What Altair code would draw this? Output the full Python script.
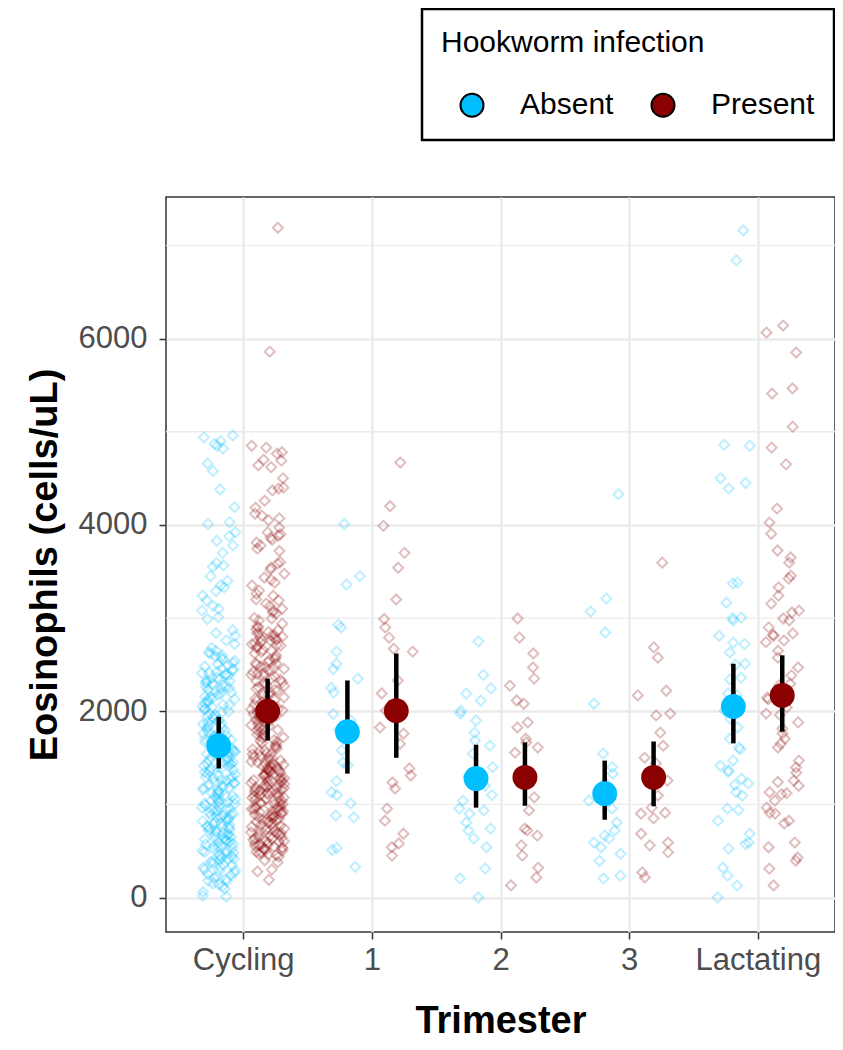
import altair as alt
import pandas as pd

categories = ["Cycling", "1", "2", "3", "Lactating"]
infection_levels = ["Absent", "Present"]
infection_colors = ["#00BFFF", "#8B0000"]

cycling_absent = [
    4960, 4940, 4900, 4870, 4850, 4820, 4660, 4580, 4380, 4190, 4030, 4010, 3920, 3880,
    3830, 3780, 3590, 3565, 3550, 3400, 3350, 3330, 3290, 3190, 3130, 3100, 3080, 2990,
    2840, 2810, 2760, 2680, 2650, 2630, 2570, 2540,
    2520, 2505, 2490, 2455, 2450, 2425, 2410, 2395, 2380, 2355, 2340, 2330, 2305, 2290,
    2265, 2250, 2235, 2215, 2200, 2175, 2150, 2140, 2115, 2100, 2085, 2065, 2050, 2030,
    2015, 1990, 1975, 1960, 1935, 1920, 1905, 1880, 1860, 1845, 1825, 1810, 1790, 1775,
    1760, 1740, 1715, 1700, 1685, 1665, 1650, 1625, 1610, 1590, 1580, 1555, 1540, 1525,
    1500, 1490, 1465, 1450, 1440, 1415, 1400, 1385, 1370, 1345, 1330, 1310, 1300, 1280,
    1265, 1250, 1225, 1210, 1190, 1175, 1160, 1135, 1120, 1105, 1090, 1070, 1055, 1040,
    1020, 1005, 990, 965, 950, 940, 915, 900, 885, 870, 850, 835, 820, 795, 780, 765,
    750, 735, 720, 700, 680, 665, 650, 625, 610, 600, 575, 560, 545, 530, 505, 490, 470,
    455, 440, 415, 400, 380, 365, 345, 330, 300, 285, 250, 230, 200, 175, 140, 95, 20, 10,
    1430, 1180, 1020, 880, 760, 640, 1560, 1720, 1230, 930, 2270, 2320, 2410,
    2480, 2440, 2390, 2360, 2310, 2280, 2230, 2190, 2160, 2130, 2070, 2040, 2000, 1950,
    1890, 1870, 1830, 1780, 1730, 1690, 1670, 1640, 1600, 1570, 1530, 1510, 1475, 1455,
    1410, 1390, 1355, 1320, 1290, 1270, 1240, 1200, 1150, 1125, 1080, 1060, 1030, 1010,
    975, 955, 925, 890, 860, 840, 810, 790, 755, 740, 710, 690, 670, 640, 615, 590, 570,
    550, 520, 500, 480, 450, 430, 410, 390, 355, 320, 290, 265, 240, 210, 180, 150, 120,
    60, 2600, 2720, 2870, 3010, 3240, 3450, 3700, 2560, 2590, 2620,
]
cycling_present = [
    7190, 5860, 4850, 4830, 4780, 4765, 4690, 4640, 4620, 4500, 4390, 4370, 4260, 4185,
    4120, 4070, 4050, 3970, 3920, 3885, 3865, 3840, 3810, 3780, 3745, 3720, 3585, 3540,
    3520, 3475, 3435, 3410, 3380, 3295, 3260, 3240, 3190, 3155, 3130, 3080, 3060, 3050,
    2995, 2975, 2940, 2900, 2880, 2835, 2820, 2790, 2760, 2740, 2705, 2650, 2635, 2620,
    2575, 2545,
    2530, 2515, 2500, 2480, 2470, 2455, 2440, 2420, 2400, 2390, 2370, 2350, 2335, 2310,
    2300, 2285, 2260, 2240, 2230, 2205, 2190, 2170, 2150, 2135, 2110, 2100, 2080, 2060,
    2040, 2020, 2010, 1985, 1970, 1950, 1930, 1910, 1900, 1875, 1860, 1840, 1820, 1800,
    1790, 1770, 1750, 1730, 1715, 1690, 1680, 1660, 1640, 1625, 1600, 1590, 1570, 1550,
    1535, 1520, 1500, 1480, 1470, 1450, 1435, 1420, 1400, 1390, 1370, 1355, 1340, 1320,
    1310, 1290, 1275, 1260, 1245, 1230, 1210, 1200, 1185, 1170, 1150, 1140, 1120, 1105,
    1090, 1075, 1060, 1040, 1030, 1010, 995, 980, 960, 950, 930, 915, 900, 885, 870, 850,
    840, 820, 805, 790, 770, 760, 740, 725, 710, 690, 680, 660, 645, 630, 610, 600, 580,
    565, 550, 535, 520, 500, 490, 470, 455, 440, 400, 380, 300, 280, 190,
    2780, 2770, 2800, 2710, 2690, 1380, 1360, 1250, 1130, 1080, 1000, 1220, 960, 940, 870,
    880, 1180, 1290, 1410, 530, 560, 620, 700, 2850, 2720, 1160, 1110,
    2910, 2870, 2840, 2810, 2760, 2730, 2680, 2660, 2600, 2560, 2510, 2460, 2410, 2380,
    2320, 2270, 2220, 2180, 2120, 2070, 2030, 1995, 1940, 1890, 1850, 1810, 1760, 1720,
    1670, 1610, 1580, 1540, 1510, 1490, 1460, 1440, 1425, 1395, 1375, 1345, 1330, 1305,
    1280, 1265, 1240, 1215, 1195, 1175, 1155, 1135, 1115, 1095, 1070, 1050, 1020, 1005,
    985, 970, 945, 925, 905, 890, 860, 845, 830, 810, 780, 750, 730, 715, 695, 670, 650,
    635, 605, 590, 570, 545, 525, 510, 480, 460, 3200, 3350, 3600, 3900, 4100, 4400,
    4700, 3000, 3100,
]
t1_absent = [
    4010, 3450, 3360, 2930, 2900, 2640, 2510, 2450, 2350, 2250, 2200, 1970, 1900, 1800,
    1700, 1580, 1450, 1420, 1250, 1130, 1100, 1010, 880, 860, 530, 510, 330,
]
t1_present = [
    4670, 4200, 3990, 3700, 3540, 3200, 2990, 2900, 2790, 2670, 2640, 2330, 2190, 2005,
    1825, 1760, 1650, 1385, 1310, 1235, 1170, 955, 825, 685, 580, 540, 450,
]
t2_absent = [
    2750, 2390, 2245, 2190, 2115, 2005, 1975, 1900, 1770, 1685, 1630, 1545, 1400, 1300,
    1200, 1100, 1040, 955, 935, 900, 805, 740, 720, 635, 540, 310, 205, 0,
]
t2_present = [
    2995, 2790, 2620, 2470, 2350, 2275, 2115, 2080, 1880, 1825, 1705, 1665, 1610, 1555,
    1330, 1275, 1075, 935, 740, 720, 665, 560, 450, 320, 215, 130,
]
t3_absent = [
    4330, 3210, 3070, 2845, 2080, 1545, 1400, 1330, 1235, 1150, 1040, 955, 805, 720, 665,
    635, 590, 540, 470, 395, 235, 205,
]
t3_present = [
    3595, 2685, 2575, 2220, 2170, 1975, 1955, 1770, 1630, 1500, 1440, 1255, 1095, 965,
    910, 900, 850, 685, 590, 560, 485, 270, 215,
]
lactating_absent = [
    7160, 6840, 4860, 4850, 4500, 4450, 4390, 3380, 3370, 3165, 3005, 3000, 2975, 2810,
    2735, 2720, 2630, 2510, 2500, 2360, 2340, 2190, 2170, 2005, 1920, 1825, 1705, 1610,
    1590, 1470, 1415, 1365, 1350, 1275, 1225, 1210, 1130, 1095, 955, 940, 825, 685, 590,
    575, 525, 320, 235, 130, 0,
]
lactating_present = [
    6140, 6065, 5850, 5465, 5410, 5055, 4830, 4650, 4175, 4025, 3905, 3725, 3650, 3595,
    3455, 3425, 3330, 3240, 3155, 3080, 3060, 2995, 2975, 2900, 2835, 2820, 2810, 2760,
    2740, 2650, 2575, 2470, 2385, 2295, 2280, 2145, 2130, 2040, 1975, 1960, 1880, 1815,
    1760, 1705, 1650, 1610, 1470, 1395, 1340, 1255, 1240, 1200, 1130, 1120, 1110, 1040,
    965, 910, 900, 825, 795, 590, 540, 430, 395, 310, 130,
]

# ---- group summaries: mean and interval ----
summary_trimester = ["Cycling", "Cycling", "1", "1", "2", "2", "3", "3", "Lactating", "Lactating"]
summary_infection = ["Absent", "Present"] * 5
mean_values = [1630, 2000, 1780, 2005, 1277, 1290, 1115, 1290, 2050, 2170]
ci_lower = [1385, 1685, 1330, 1500, 965, 985, 835, 980, 1655, 1780]
ci_upper = [1940, 2350, 2330, 2620, 1640, 1665, 1470, 1675, 2510, 2600]

minor_breaks = [1000, 3000, 5000, 7000]
major_breaks = [0, 2000, 4000, 6000]

groups = [
    ("Cycling", "Absent", cycling_absent), ("Cycling", "Present", cycling_present),
    ("1", "Absent", t1_absent), ("1", "Present", t1_present),
    ("2", "Absent", t2_absent), ("2", "Present", t2_present),
    ("3", "Absent", t3_absent), ("3", "Present", t3_present),
    ("Lactating", "Absent", lactating_absent), ("Lactating", "Present", lactating_present),
]
rows = []
for trim, inf, vals in groups:
    for v in vals:
        rows.append({"trimester": trim, "hook": inf, "eos": v})
points_df = pd.DataFrame(rows)

summary_df = pd.DataFrame({
    "trimester": summary_trimester, "infection": summary_infection,
    "mean": mean_values, "lo": ci_lower, "hi": ci_upper,
})
minor_df = pd.DataFrame({"v": minor_breaks})

cat_list = "[" + ",".join(f"'{c}'" for c in categories) + "]"
cat_expr = f"indexof({cat_list}, datum.trimester)"
dodge_pts = "(datum.hook == 'Absent' ? -0.19 : 0.19)"
dodge_sum = "(datum.infection == 'Absent' ? -0.19 : 0.19)"
hash_expr = ("((sin((datum.idx + 53 * " + cat_expr + " + (datum.hook == 'Absent' ? 0 : 911)) * 12.9898) "
             "* 43758.5453) % 1 + 1) % 1")

FONT = "Liberation Sans"
x_scale = alt.Scale(domain=[-0.6, 4.6], nice=False, zero=False)
y_scale = alt.Scale(domain=[-370, 7520], nice=False, zero=False)
x_axis = alt.Axis(values=[0, 1, 2, 3, 4], labelExpr=f"{cat_list}[datum.value]",
                  title="Trimester", labelPadding=6, titlePadding=27)
y_axis = alt.Axis(values=major_breaks, title="Eosinophils (cells/uL)", labelPadding=12,
                  titlePadding=14, format="d")
color_scale = alt.Scale(domain=infection_levels, range=infection_colors)

minor = alt.Chart(minor_df).mark_rule(color="#EBEBEB", strokeWidth=1.3).encode(
    y=alt.Y("v:Q", scale=y_scale, axis=y_axis)
)

jitter_layers = []
for level, col in zip(infection_levels, infection_colors):
    jitter_layers.append(
        alt.Chart(points_df).transform_filter(
            alt.datum.hook == level
        ).transform_window(
            idx="row_number()", groupby=["trimester"]
        ).transform_calculate(
            xj=f"{cat_expr} + {dodge_pts} + ({hash_expr} - 0.5) * 0.26"
        ).mark_point(shape="diamond", filled=False, size=100, strokeWidth=2, opacity=0.25,
                     color=col).encode(
            x=alt.X("xj:Q", scale=x_scale, axis=x_axis),
            y=alt.Y("eos:Q", scale=y_scale, axis=y_axis),
        )
    )

bars = alt.Chart(summary_df).transform_calculate(
    xm=f"{cat_expr} + {dodge_sum}"
).mark_rule(color="black", strokeWidth=4.5).encode(
    x=alt.X("xm:Q", scale=x_scale, axis=x_axis),
    y=alt.Y("lo:Q", scale=y_scale, axis=y_axis),
    y2="hi:Q",
)

means = alt.Chart(summary_df).transform_calculate(
    xm=f"{cat_expr} + {dodge_sum}"
).mark_circle(size=620, opacity=1).encode(
    x=alt.X("xm:Q", scale=x_scale, axis=x_axis),
    y=alt.Y("mean:Q", scale=y_scale, axis=y_axis),
    fill=alt.Fill("infection:N", scale=color_scale, legend=alt.Legend(
        title="Hookworm infection", orient="none", legendX=256, legendY=-188,
        direction="horizontal", columns=2,
    )),
)

chart = alt.layer(minor, *jitter_layers, bars, means).properties(
    width=669, height=735,
    autosize=alt.AutoSizeParams(type="none"),
    padding={"left": 158, "top": 189, "right": 0, "bottom": 110},
    background="white",
).configure_view(
    stroke="#333333", strokeWidth=1.5
).configure_axis(
    grid=True, gridColor="#EBEBEB", gridWidth=2.5, domain=False,
    tickColor="#333333", tickWidth=1.5, tickSize=7,
    labelFont=FONT, labelFontSize=31, labelColor="#4D4D4D",
    titleFont=FONT, titleFontSize=38, titleFontWeight="bold", titleColor="black",
).configure_legend(
    titleFont=FONT, titleFontSize=30, titleFontWeight="normal", titleColor="black",
    titleLimit=500, labelLimit=300,
    labelFont=FONT, labelFontSize=30, labelColor="black",
    symbolType="circle", symbolSize=530, symbolStrokeColor="black", symbolStrokeWidth=2,
    symbolOffset=16, labelOffset=33, columnPadding=18, titlePadding=32,
    strokeColor="black", strokeWidth=2.5, padding=19, cornerRadius=0, fillColor="white",
)

chart.save("out.html", embed_options={"renderer": "svg", "actions": False})
